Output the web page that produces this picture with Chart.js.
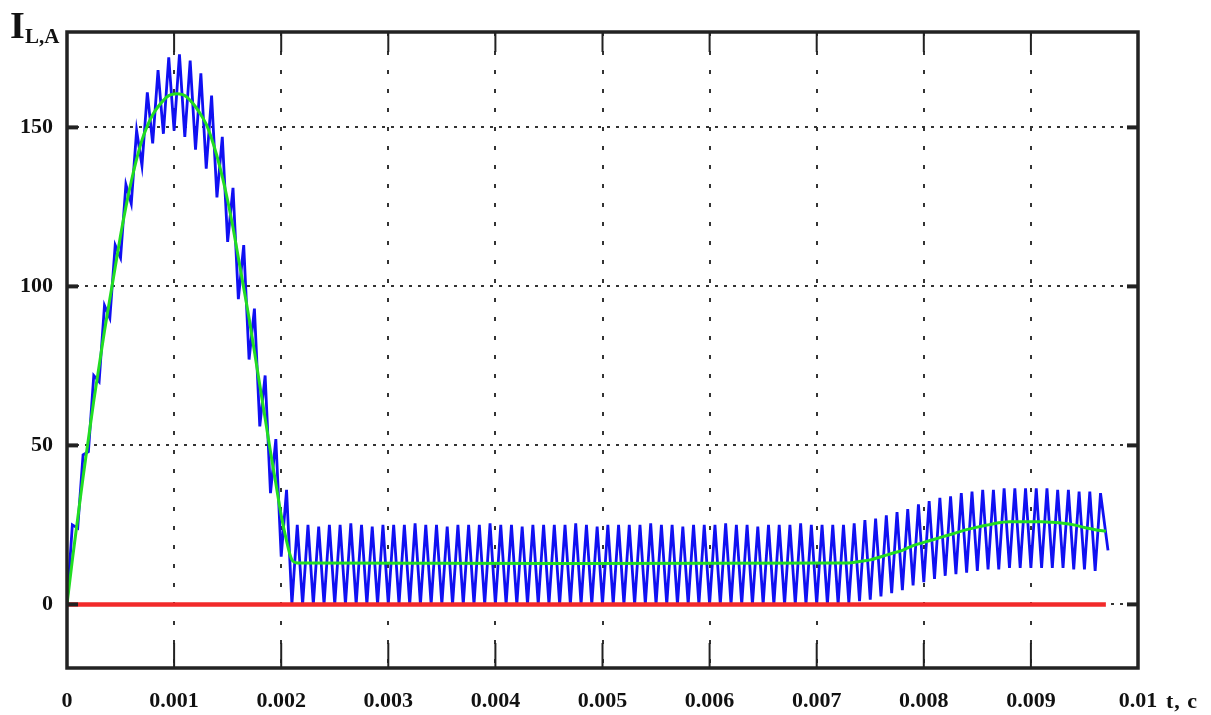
<!DOCTYPE html>
<html>
<head>
<meta charset="utf-8">
<script src="https://cdn.jsdelivr.net/npm/chart.js@4/dist/chart.umd.min.js"></script>
<style>
  body { margin: 0; background: #fff; }
  #wrap { width: 1211px; height: 715px; position: relative; }
</style>
</head>
<body>
<div id="wrap"><canvas id="LineChart"></canvas></div>
<script>
// time axis, s
const xTicks = [0, 0.001, 0.002, 0.003, 0.004, 0.005, 0.006, 0.007, 0.008, 0.009, 0.01];
const yTicks = [0, 50, 100, 150];

// averaged inductor current (green)
const greenT = [0, 0.00005, 0.0001, 0.00015, 0.0002, 0.00025, 0.0003, 0.00035, 0.0004, 0.00045,
  0.0005, 0.00055, 0.0006, 0.00065, 0.0007, 0.00075, 0.0008, 0.00085, 0.0009, 0.00095,
  0.001, 0.00105, 0.0011, 0.00115, 0.0012, 0.00125, 0.0013, 0.00135, 0.0014, 0.00145,
  0.0015, 0.00155, 0.0016, 0.00165, 0.0017, 0.00175, 0.0018, 0.00185, 0.0019, 0.00195,
  0.002, 0.00205, 0.0021, 0.00215, 0.0073, 0.0074, 0.0075, 0.0076, 0.0077, 0.0078,
  0.0079, 0.008, 0.0081, 0.0082, 0.0083, 0.0084, 0.0085, 0.0086, 0.0087, 0.0088,
  0.0089, 0.009, 0.0091, 0.0092, 0.0093, 0.0094, 0.0095, 0.0096, 0.0097];
const greenI = [0, 14, 27, 40, 52, 64, 75, 86, 96, 106,
  116, 125, 133, 140, 146, 150.5, 154, 156.5, 158.5, 160,
  160.5, 160.5, 160, 158.5, 156.5, 154, 151, 146.5, 141, 134.5,
  127, 118.5, 109, 99.5, 90, 79.5, 69, 58.5, 48, 38,
  28, 20, 14, 13, 13, 13.5, 14, 15, 16, 17,
  18.5, 19.5, 20.5, 21.5, 22.5, 23.5, 24.3, 25, 25.7, 26,
  26, 26, 26, 25.8, 25.5, 25, 24.2, 23.5, 23];

// ripple current (blue): one low and one high value per switching period
const period = 0.0001;
const blueLow = [0, 24, 48, 70, 90, 109, 126, 138, 145, 148,
  149, 147, 143, 137, 128, 114, 96, 77, 56, 35,
  15, 0, 0, 0, 0, 0, 0, 0, 0, 0,
  0, 0, 0, 0, 0, 0, 0, 0, 0, 0,
  0, 0, 0, 0, 0, 0, 0, 0, 0, 0,
  0, 0, 0, 0, 0, 0, 0, 0, 0, 0,
  0, 0, 0, 0, 0, 0, 0, 0, 0, 0,
  0, 0, 0, 0.5, 1, 1.5, 2.5, 3.5, 4.5, 6,
  7, 8, 9, 9.5, 10, 10.5, 11, 11, 11.5, 11.5,
  11.5, 11.5, 11.5, 11.5, 11, 11, 10.5];
const blueHigh = [25, 47, 72, 94, 113, 132, 149, 161, 168, 172,
  173, 171, 167, 160, 147, 131, 113, 93, 72, 52,
  36, 25, 25, 24.5, 25, 25, 25.5, 25, 24.5, 25,
  25, 25, 25.5, 25, 25, 24.5, 25, 25, 25, 25.5,
  25, 25, 24.5, 25, 25, 25, 25, 25.5, 25, 24.5,
  25, 25, 25, 25, 25.5, 25, 25, 24.5, 25, 25,
  25, 25.5, 25, 25, 24.5, 25, 25, 25, 25.5, 25,
  25, 25, 25, 25.5, 26.5, 27, 28, 29, 30, 31.5,
  32.5, 33.5, 34, 35, 35.5, 36, 36, 36.5, 36.5, 36.5,
  36.5, 36.5, 36, 36, 35.5, 35.5, 35];
const blueEnd = { t: 0.00972, i: 17 };

// zero line (red)
const redT = [0, 0.0097];
const redI = [0, 0];

let bluePts = [];
for (let k = 0; k < blueHigh.length; k++) {
  bluePts.push({ x: k * period, y: blueLow[k] });
  bluePts.push({ x: (k + 0.5) * period, y: blueHigh[k] });
}
bluePts.push({ x: blueEnd.t, y: blueEnd.i });
const greenPts = greenT.map((t, i) => ({ x: t, y: greenI[i] }));
const redPts = redT.map((t, i) => ({ x: t, y: redI[i] }));

const font = { family: "'Liberation Serif', 'Times New Roman', serif", size: 22, weight: "bold" };

const frame = {
  id: "frame",
  afterDraw(chart) {
    const { ctx, chartArea: a, scales } = chart;
    const line = (x1, y1, x2, y2, w) => {
      ctx.lineWidth = w;
      ctx.beginPath();
      ctx.moveTo(x1, y1);
      ctx.lineTo(x2, y2);
      ctx.stroke();
    };
    ctx.save();
    ctx.strokeStyle = "#222";
    xTicks.forEach((v) => {
      const px = scales.x.getPixelForValue(v);
      line(px, a.top, px, a.top + 20, 2);
      line(px, a.bottom, px, a.bottom - 25, 2);
    });
    yTicks.forEach((v) => {
      const py = scales.y.getPixelForValue(v);
      line(a.left, py, a.left + 11, py, 4);
      line(a.right, py, a.right - 11, py, 4);
    });
    ctx.lineWidth = 3.5;
    ctx.strokeRect(a.left, a.top, a.right - a.left, a.bottom - a.top);

    ctx.fillStyle = "#111";
    ctx.textBaseline = "alphabetic";
    ctx.font = "bold 38px 'Liberation Serif', serif";
    ctx.fillText("I", 10, 38);
    ctx.font = "bold 21px 'Liberation Serif', serif";
    ctx.fillText("L,A", 25, 43);
    ctx.font = "bold 22px 'Liberation Serif', serif";
    ctx.letterSpacing = "1px";
    ctx.fillText("t, c", 1166, 708);
    ctx.restore();
  },
};

new Chart(document.getElementById("LineChart"), {
  type: "line",
  data: {
    datasets: [
      { data: redPts, borderColor: "#f22a2a", borderWidth: 4.5, pointRadius: 0, order: 0 },
      { data: greenPts, borderColor: "#22dd22", borderWidth: 3, pointRadius: 0, tension: 0.3, order: 1 },
      { data: bluePts, borderColor: "#1010f2", borderWidth: 2.8, pointRadius: 0, order: 2 },
    ],
  },
  options: {
    responsive: true,
    maintainAspectRatio: false,
    animation: false,
    devicePixelRatio: 1,
    layout: { padding: { left: 0, top: 32, right: 73, bottom: 0 } },
    plugins: { legend: { display: false }, tooltip: { enabled: false } },
    scales: {
      x: {
        type: "linear",
        min: 0,
        max: 0.01,
        afterBuildTicks: (s) => { s.ticks = xTicks.map((v) => ({ value: v })); },
        afterFit: (s) => { s.height = 47; },
        ticks: { font: font, color: "#111", padding: 20, maxRotation: 0, autoSkip: false,
          callback: (v) => String(v) },
        grid: { color: "#333", lineWidth: 2, drawTicks: false },
        border: { display: false, dash: [4, 15] },
      },
      y: {
        min: -20,
        max: 180,
        afterBuildTicks: (s) => { s.ticks = yTicks.map((v) => ({ value: v })); },
        afterFit: (s) => { s.width = 67; },
        ticks: { font: font, color: "#111", padding: 14 },
        grid: { color: "#333", lineWidth: 2, drawTicks: false },
        border: { display: false, dash: [3, 6] },
      },
    },
  },
  plugins: [frame],
});
</script>
</body>
</html>
